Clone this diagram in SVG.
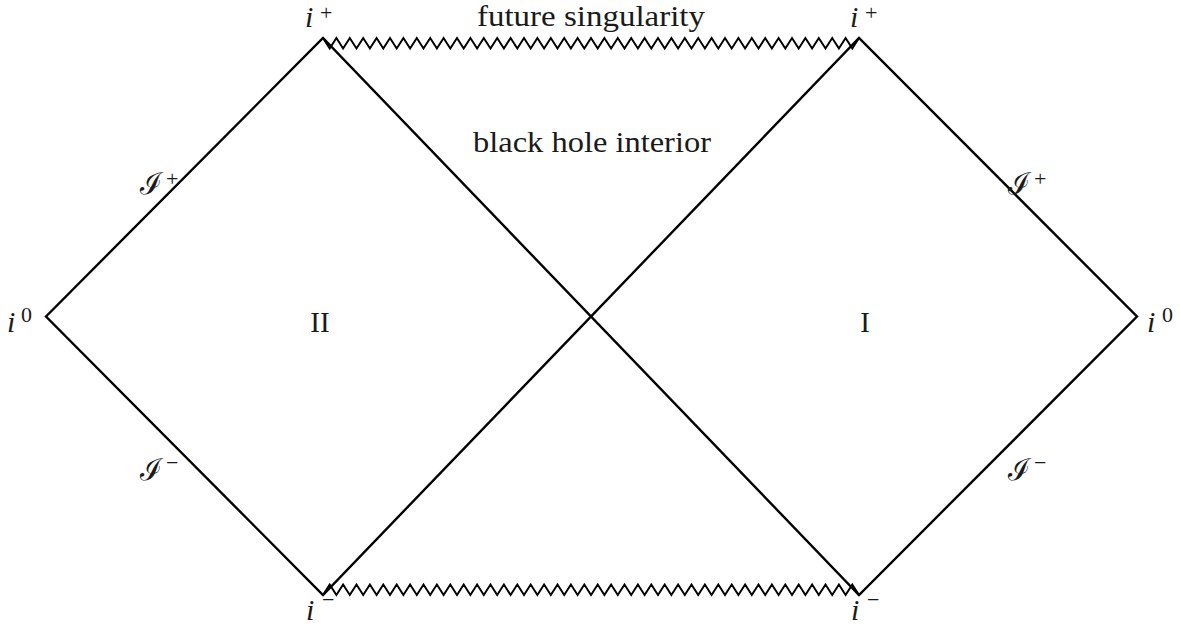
<svg xmlns="http://www.w3.org/2000/svg" width="1180" height="627" viewBox="0 0 1180 627">
<style>
.ln{fill:none;stroke:#000;stroke-width:2.4;stroke-linejoin:miter}
.zz{fill:none;stroke:#000;stroke-width:2;stroke-linejoin:miter}
.t{font-family:"Liberation Serif","DejaVu Serif",serif;font-size:29px;fill:#1a1a1a}
.m{font-family:"Liberation Serif","DejaVu Serif",serif;font-style:italic;font-size:30px;fill:#1a1a1a}
.s{font-family:"Liberation Serif","DejaVu Serif",serif;font-size:22px;fill:#1a1a1a}
.sc{font-family:"DejaVu Serif","Noto Sans",serif;font-style:italic;font-size:30px;fill:#1a1a1a}
</style>
<rect width="1180" height="627" fill="#fff"/>
<g id="connectors">
<path class="ln" d="M46,316.5 L323,38 L859,595 L1137,316.5 L859,38 L323,595 Z"/>
<polyline id="future-singularity" class="zz" points="323,38 329.7,48.5 336.4,38 343.1,48.5 349.8,38 356.5,48.5 363.2,38 369.9,48.5 376.6,38 383.3,48.5 390,38 396.7,48.5 403.4,38 410.1,48.5 416.8,38 423.5,48.5 430.2,38 436.9,48.5 443.6,38 450.3,48.5 457,38 463.7,48.5 470.4,38 477.1,48.5 483.8,38 490.5,48.5 497.2,38 503.9,48.5 510.6,38 517.3,48.5 524,38 530.7,48.5 537.4,38 544.1,48.5 550.8,38 557.5,48.5 564.2,38 570.9,48.5 577.6,38 584.3,48.5 591,38 597.7,48.5 604.4,38 611.1,48.5 617.8,38 624.5,48.5 631.2,38 637.9,48.5 644.6,38 651.3,48.5 658,38 664.7,48.5 671.4,38 678.1,48.5 684.8,38 691.5,48.5 698.2,38 704.9,48.5 711.6,38 718.3,48.5 725,38 731.7,48.5 738.4,38 745.1,48.5 751.8,38 758.5,48.5 765.2,38 771.9,48.5 778.6,38 785.3,48.5 792,38 798.7,48.5 805.4,38 812.1,48.5 818.8,38 825.5,48.5 832.2,38 838.9,48.5 845.6,38 852.3,48.5 859,38"/>
<polyline id="past-singularity" class="zz" points="323,595 329.7,584.5 336.4,595 343.1,584.5 349.8,595 356.5,584.5 363.2,595 369.9,584.5 376.6,595 383.3,584.5 390,595 396.7,584.5 403.4,595 410.1,584.5 416.8,595 423.5,584.5 430.2,595 436.9,584.5 443.6,595 450.3,584.5 457,595 463.7,584.5 470.4,595 477.1,584.5 483.8,595 490.5,584.5 497.2,595 503.9,584.5 510.6,595 517.3,584.5 524,595 530.7,584.5 537.4,595 544.1,584.5 550.8,595 557.5,584.5 564.2,595 570.9,584.5 577.6,595 584.3,584.5 591,595 597.7,584.5 604.4,595 611.1,584.5 617.8,595 624.5,584.5 631.2,595 637.9,584.5 644.6,595 651.3,584.5 658,595 664.7,584.5 671.4,595 678.1,584.5 684.8,595 691.5,584.5 698.2,595 704.9,584.5 711.6,595 718.3,584.5 725,595 731.7,584.5 738.4,595 745.1,584.5 751.8,595 758.5,584.5 765.2,595 771.9,584.5 778.6,595 785.3,584.5 792,595 798.7,584.5 805.4,595 812.1,584.5 818.8,595 825.5,584.5 832.2,595 838.9,584.5 845.6,595 852.3,584.5 859,595"/>
</g>
<g id="labels-regions">
<text class="t" x="477" y="26" textLength="228" lengthAdjust="spacingAndGlyphs">future singularity</text>
<text class="t" x="473" y="152" textLength="238" lengthAdjust="spacingAndGlyphs">black hole interior</text>
<text class="t" x="320" y="332" text-anchor="middle" font-size="30">II</text>
<text class="t" x="865" y="332" text-anchor="middle" font-size="30">I</text>
</g>
<g id="node-iplus-left"><text class="m" x="305" y="27">i</text><text class="s" x="320" y="20">+</text></g>
<g id="node-iplus-right"><text class="m" x="850" y="27">i</text><text class="s" x="865" y="20">+</text></g>
<g id="node-iminus-left"><text class="m" x="306" y="620" font-size="28">i</text><text class="s" x="322" y="607">−</text></g>
<g id="node-iminus-right"><text class="m" x="851" y="620" font-size="28">i</text><text class="s" x="867" y="607">−</text></g>
<g id="node-i0-left"><text class="m" x="7" y="332">i</text><text class="s" x="21" y="322">0</text></g>
<g id="node-i0-right"><text class="m" x="1147" y="332">i</text><text class="s" x="1162" y="322">0</text></g>
<g id="node-scri-plus-left"><text class="sc" x="140" y="194">ℐ</text><text class="s" x="166" y="186">+</text></g>
<g id="node-scri-minus-left"><text class="sc" x="140" y="480">ℐ</text><text class="s" x="166" y="470">−</text></g>
<g id="node-scri-plus-right"><text class="sc" x="1008" y="194">ℐ</text><text class="s" x="1034" y="186">+</text></g>
<g id="node-scri-minus-right"><text class="sc" x="1008" y="480">ℐ</text><text class="s" x="1034" y="470">−</text></g>
</svg>
